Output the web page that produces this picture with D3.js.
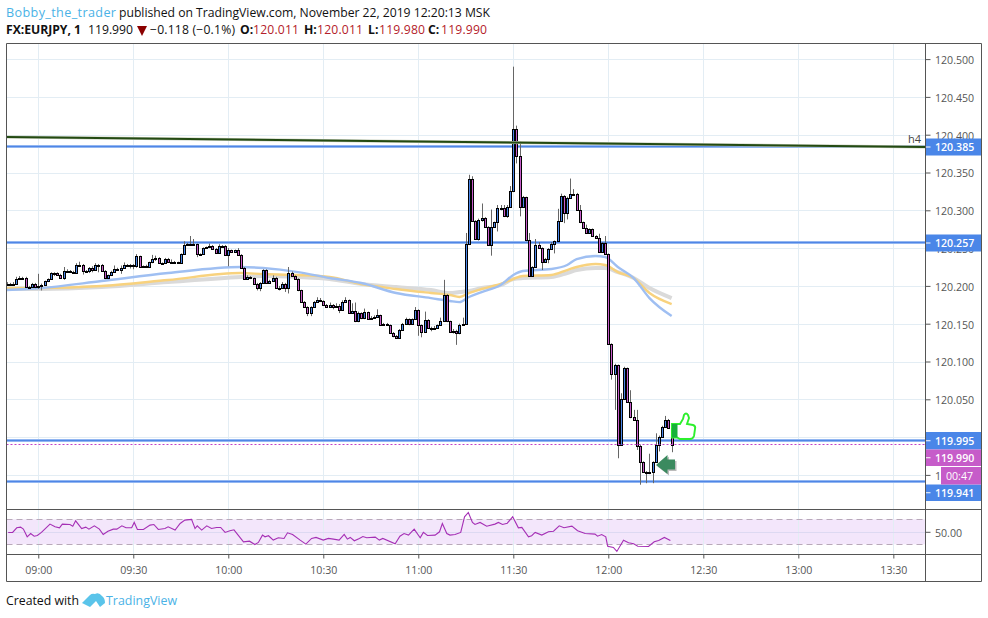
<!DOCTYPE html>
<html><head><meta charset="utf-8">
<script src="https://cdnjs.cloudflare.com/ajax/libs/d3/7.8.5/d3.min.js"></script>
<style>html,body{margin:0;padding:0;background:#fff}svg{display:block}text{font-family:"Open Sans",sans-serif}</style>
</head><body><svg id="c" width="988" height="618"></svg>
<script>
const closes=[120.203,120.203,120.203,120.209,120.210,120.210,120.199,120.199,120.203,120.198,
120.200,120.201,120.206,120.209,120.217,120.217,120.215,120.211,120.220,120.220,
120.219,120.217,120.228,120.228,120.220,120.220,120.224,120.221,120.228,120.228,
120.220,120.210,120.214,120.219,120.222,120.221,120.224,120.228,120.228,120.228,
120.226,120.239,120.225,120.226,120.225,120.231,120.236,120.237,120.230,120.230,
120.236,120.232,120.232,120.231,120.230,120.242,120.254,120.255,120.256,120.255,
120.242,120.242,120.250,120.251,120.253,120.249,120.244,120.253,120.253,120.241,
120.247,120.245,120.247,120.241,120.224,120.209,120.212,120.210,120.203,120.197,
120.204,120.221,120.204,120.207,120.211,120.197,120.197,120.203,120.197,120.217,
120.213,120.209,120.194,120.179,120.172,120.164,120.172,120.179,120.182,120.180,
120.175,120.172,120.175,120.172,120.173,120.168,120.179,120.181,120.164,120.167,
120.153,120.164,120.157,120.165,120.156,120.158,120.159,120.161,120.148,120.150,
120.148,120.138,120.134,120.131,120.142,120.150,120.156,120.150,120.156,120.168,
120.148,120.139,120.155,120.144,120.144,120.144,120.148,120.154,120.188,120.153,
120.139,120.141,120.138,120.148,120.150,120.255,120.341,120.286,120.262,120.287,
120.290,120.278,120.254,120.278,120.284,120.303,120.303,120.292,120.305,120.326,
120.408,120.372,120.305,120.317,120.261,120.213,120.225,120.254,120.250,120.232,
120.236,120.249,120.256,120.259,120.286,120.319,120.297,120.316,120.322,120.322,
120.301,120.284,120.277,120.270,120.275,120.266,120.264,120.245,120.257,120.242,
120.123,120.083,120.095,119.990,120.050,120.091,120.047,120.026,120.023,119.988,
119.967,119.954,119.952,119.954,119.967,119.989,120.000,120.013,120.023,120.012,119.990];
const highs=[120.205,120.204,120.205,120.212,120.213,120.212,120.212,120.200,120.204,120.204,
120.216,120.203,120.207,120.210,120.218,120.218,120.218,120.216,120.225,120.222,
120.221,120.220,120.230,120.232,120.229,120.221,120.225,120.226,120.230,120.229,
120.229,120.221,120.215,120.220,120.227,120.224,120.227,120.231,120.229,120.229,
120.229,120.242,120.240,120.227,120.228,120.232,120.241,120.240,120.238,120.231,
120.237,120.237,120.235,120.233,120.232,120.243,120.259,120.257,120.266,120.262,
120.256,120.243,120.251,120.252,120.256,120.254,120.250,120.255,120.254,120.254,
120.250,120.248,120.248,120.250,120.242,120.225,120.214,120.213,120.211,120.204,
120.205,120.222,120.222,120.208,120.214,120.212,120.200,120.205,120.204,120.225,
120.219,120.214,120.210,120.195,120.180,120.173,120.173,120.180,120.185,120.184,
120.181,120.176,120.178,120.176,120.177,120.176,120.181,120.185,120.182,120.177,
120.178,120.166,120.165,120.170,120.166,120.160,120.161,120.169,120.162,120.151,
120.151,120.149,120.139,120.135,120.143,120.151,120.158,120.157,120.157,120.172,
120.169,120.149,120.166,120.156,120.146,120.147,120.149,120.158,120.208,120.189,
120.154,120.143,120.142,120.150,120.158,120.270,120.347,120.345,120.287,120.289,
120.309,120.291,120.279,120.301,120.285,120.307,120.307,120.307,120.307,120.332,
120.490,120.412,120.391,120.319,120.318,120.270,120.226,120.262,120.258,120.251,
120.237,120.250,120.258,120.260,120.302,120.322,120.320,120.318,120.342,120.328,
120.323,120.307,120.285,120.281,120.276,120.276,120.267,120.269,120.258,120.266,
120.243,120.124,120.097,120.096,120.058,120.093,120.092,120.062,120.036,120.036,
119.990,119.968,119.955,119.978,119.968,120.005,120.002,120.015,120.028,120.024,120.011];
const lows=[120.201,120.202,120.201,120.203,120.208,120.208,120.198,120.198,120.198,120.197,
120.196,120.194,120.200,120.205,120.208,120.213,120.214,120.210,120.208,120.219,
120.218,120.216,120.216,120.226,120.215,120.219,120.217,120.218,120.220,120.218,
120.219,120.209,120.209,120.213,120.218,120.220,120.216,120.223,120.227,120.223,
120.222,120.224,120.224,120.224,120.224,120.225,120.230,120.233,120.229,120.229,
120.229,120.231,120.231,120.230,120.229,120.229,120.241,120.253,120.254,120.253,
120.238,120.240,120.241,120.249,120.250,120.248,120.243,120.243,120.252,120.240,
120.226,120.244,120.244,120.240,120.223,120.208,120.208,120.209,120.202,120.194,
120.193,120.203,120.203,120.203,120.206,120.196,120.194,120.196,120.192,120.190,
120.212,120.208,120.193,120.178,120.171,120.160,120.160,120.171,120.178,120.179,
120.174,120.171,120.171,120.169,120.171,120.164,120.167,120.178,120.163,120.163,
120.152,120.152,120.156,120.156,120.155,120.155,120.157,120.158,120.147,120.147,
120.147,120.137,120.132,120.130,120.130,120.141,120.149,120.148,120.149,120.155,
120.134,120.132,120.138,120.143,120.140,120.142,120.143,120.147,120.153,120.152,
120.138,120.137,120.122,120.136,120.147,120.149,120.254,120.285,120.261,120.260,
120.285,120.277,120.253,120.240,120.277,120.272,120.300,120.291,120.290,120.304,
120.324,120.362,120.292,120.303,120.259,120.212,120.212,120.224,120.249,120.221,
120.231,120.230,120.248,120.243,120.258,120.285,120.283,120.288,120.315,120.321,
120.300,120.283,120.276,120.269,120.269,120.265,120.263,120.244,120.244,120.241,
120.122,120.076,120.036,119.972,119.989,120.049,120.046,120.025,120.022,119.983,
119.937,119.953,119.939,119.951,119.939,119.966,119.981,119.999,120.012,120.011,119.980];
const maIdx=[0,11,30,51,74,81,92,102,112,123,134,140,143,146,150,156,160,163,172,177,180,186,189,193,198,203,210];
const maBlue=[120.1945,120.1972,120.2064,120.2170,120.2250,120.2236,120.2183,120.2104,120.2038,120.1906,120.1839,120.1800,120.1786,120.1853,120.1919,120.2011,120.2144,120.2197,120.2223,120.2276,120.2355,120.2395,120.2382,120.2250,120.2104,120.1839,120.1601];
const maOrange=[120.1972,120.1972,120.1998,120.2078,120.2170,120.2157,120.2144,120.2117,120.2025,120.1959,120.1906,120.1879,120.1853,120.1906,120.1959,120.2025,120.2091,120.2131,120.2144,120.2210,120.2250,120.2289,120.2276,120.2183,120.2104,120.1906,120.1760];
const maGray=[120.1959,120.1959,120.1985,120.2051,120.2117,120.2131,120.2117,120.2091,120.2025,120.1985,120.1945,120.1906,120.1919,120.1932,120.1972,120.2011,120.2091,120.2104,120.2117,120.2170,120.2210,120.2236,120.2236,120.2183,120.2104,120.1972,120.1839];
const rsiIdx=[0.5,1.9,3.2,4.4,5.3,6.5,7.6,8.7,9.7,11,13.7,15.3,16.7,17.6,20,20.9,21.8,23.7,25,26,27.7,29.3,30.5,32,33.7,34.8,36.4,37.7,39.5,40.3,41.3,43.2,45.3,46.5,47.9,50,51,53.2,54.8,56.3,58.4,59.5,60.2,61.6,63.2,64.7,66.3,67.6,69,70.5,71.8,74.8,76.7,78.4,79.5,80.8,81.6,82.7,84.2,85.8,87.6,88.7,90.3,92.7,94.5,96.3,97.7,100,101.6,103.2,105,106.6,107.6,108.5,109.8,111.4,112.5,113.7,116.4,117.7,118.8,122.7,124.2,125.5,126.9,128.7,130.6,131.6,132.9,135.3,136.7,137.6,139,140,141.6,143.4,144.6,145.8,147.1,147.9,149.5,151.6,154.2,155.3,156.6,158.1,159.8,161.6,162.7,164.8,165.8,166.9,169,171.1,172.7,174.5,176,178.5,180.3,182.7,185.8,186.6,187.9,189.2,189.8,191.6,192.7,194.8,196.4,198,199.3,202.7,204.5,205.9,207.7,209.6];
const rsiVal=[49,49,56.4,57.5,54.3,42,47.3,43,44,49,62.3,58,56.4,62.3,61.7,59,67.6,55.3,57.5,54.3,59.6,54.3,45.7,51,54.3,54.3,59.6,56.4,56.4,65,53.7,53.7,60.7,61.7,53.7,55.3,58,52.7,63.3,68.7,69.8,55.3,59.6,52.7,59.6,55.3,57,57,49,51.6,53.2,34,35,29.7,33,44.7,42,43.7,36.7,40.4,39.4,48.4,45.7,36.7,30.3,39.4,41,36.7,39.4,38.3,36.7,45.7,38.3,41,35.6,39.4,42.5,40.4,41.5,36.7,39.4,30.8,43,47.3,44.7,54.3,40.4,49,44.2,44.7,50,63.3,47.3,44.7,45.7,49,74,81,65,61.7,65,59,62.3,65,61.7,63.8,74,56.4,57,42,43.7,49,44.7,50,51,59.6,56.4,59,51.6,47.3,46.3,43,45.7,42,27,25,18.6,36.5,32.6,30.8,27,26.5,34,36.2,41,36];
const priceTicks=[120.5,120.45,120.4,120.35,120.3,120.25,120.2,120.15,120.1,120.05,120,119.95];
const priceLabelTicks=[120.5,120.45,120.4,120.35,120.3,120.25,120.2,120.15,120.1,120.05,119.95];
const timeTickIdx=[10,40,70,100,130,160,190,220,250,280];
const timeLabels=["09:00","09:30","10:00","10:30","11:00","11:30","12:00","12:30","13:00","13:30"];
const levels=[120.385,120.257,119.995,119.941];
const trendIdx=[0,290];
const trendVal=[120.397,120.3837];
const lastPrice=119.990;
const rsiTicks=[50];
const rsiBand=[70,30];

const L=6.5,R=925.5,E=981.5,T=43.5,B=509.5,RB=554.5,AB=581.5;
const GRID="#e3edf4",BORDER="#555",TXT="#555";
const FUP="#4a86e8",FDN="#c65cc9";
const x=d3.scaleLinear().domain([0,290]).range([6.6,925]);
const y=d3.scaleLinear().domain([120.5,119.95]).range([59.1,474.9]);
const yr=d3.scaleLinear().domain([70,30]).range([519.3,544.3]);
const svg=d3.select("#c");
const defs=svg.append("defs");
defs.append("clipPath").attr("id","pane").append("rect").attr("x",L).attr("y",T).attr("width",R-L).attr("height",B-T);

// RSI band
svg.append("rect").attr("x",L).attr("width",R-L).attr("y",yr(70)).attr("height",yr(30)-yr(70)).attr("fill","#f3e6fb");
// grid
const g=svg.append("g");
g.selectAll(".gh").data(priceTicks).join("line").attr("x1",L).attr("x2",R).attr("y1",d=>Math.round(y(d))+.5).attr("y2",d=>Math.round(y(d))+.5).attr("stroke",GRID);
g.selectAll(".gv").data(timeTickIdx).join("line").attr("x1",d=>Math.round(x(d))+.5).attr("x2",d=>Math.round(x(d))+.5).attr("y1",T).attr("y2",RB).attr("stroke",GRID);

svg.selectAll(".rg").data(rsiTicks).join("line").attr("x1",L).attr("x2",R).attr("y1",d=>Math.round(yr(d))+.5).attr("y2",d=>Math.round(yr(d))+.5).attr("stroke","#ddd9f2");
svg.selectAll(".rb").data(rsiBand).join("line").attr("x1",L).attr("x2",R).attr("y1",d=>Math.round(yr(d))+.5).attr("y2",d=>Math.round(yr(d))+.5).attr("stroke","#b9a9ba").attr("stroke-dasharray","6 4");
svg.append("path").datum(rsiVal).attr("fill","none").attr("stroke","#a52fb5").attr("stroke-width",1.1)
 .attr("d",d3.line().x((d,i)=>x(rsiIdx[i])).y(d=>yr(d)));

const pane=svg.append("g").attr("clip-path","url(#pane)");
const maLine=d3.line().x((d,i)=>x(maIdx[i])).y(d=>y(d)).curve(d3.curveMonotoneX);
pane.append("path").datum(maGray).attr("fill","none").attr("stroke","#dadada").attr("stroke-width",4).attr("d",maLine);
pane.append("path").datum(maOrange).attr("fill","none").attr("stroke","#f8d27e").attr("stroke-width",2.4).attr("d",maLine);
pane.append("path").datum(maBlue).attr("fill","none").attr("stroke","#9fbff2").attr("stroke-width",2.4).attr("d",maLine);

// levels
[["#a9c6f4",3],["#4f86e6",1.4]].forEach(([c,w])=>{
 pane.selectAll(null).data(levels).join("line").attr("x1",L).attr("x2",R).attr("y1",d=>Math.floor(y(d))+.5).attr("y2",d=>Math.floor(y(d))+.5).attr("stroke",c).attr("stroke-width",w);
});
// candles
const idx=d3.range(closes.length);
const openOf=i=>i?closes[i-1]:closes[0];
const cg=pane.selectAll(".cd").data(idx).join("g");
cg.append("line").attr("x1",i=>Math.round(x(i))+.5).attr("x2",i=>Math.round(x(i))+.5)
 .attr("y1",i=>y(highs[i])).attr("y2",i=>y(lows[i])).attr("stroke","#666");
cg.append("rect").attr("x",i=>Math.round(x(i))-.5).attr("width",2)
 .attr("y",i=>Math.round(y(Math.max(openOf(i),closes[i])))+.5)
 .attr("height",i=>Math.max(1,Math.round(y(Math.min(openOf(i),closes[i])))-Math.round(y(Math.max(openOf(i),closes[i])))))
 .attr("fill",i=>closes[i]>=openOf(i)?FUP:FDN).attr("stroke","#000");
// trend line
const tl=d3.line().x((d,i)=>x(trendIdx[i])).y(d=>y(d));
pane.append("path").datum(trendVal).attr("fill","none").attr("stroke","#c6cdbb").attr("stroke-width",3).attr("d",tl);
pane.append("path").datum(trendVal).attr("fill","none").attr("stroke","#234a12").attr("stroke-width",2).attr("d",tl);
svg.append("line").attr("x1",L).attr("x2",R).attr("y1",Math.floor(y(lastPrice))+.5).attr("y2",Math.floor(y(lastPrice))+.5).attr("stroke","#c040c8").attr("stroke-dasharray","2 2");

svg.append("text").attr("x",908).attr("y",143).attr("font-size",11).attr("fill","#444").text("h4");

// thumb
svg.append("path").attr("d","M672 424H677L680 424L683 419L684 415Q686 412 688 415L689 418L687 424L693 425Q696 426 695 429L694 436Q693 439 690 439L680 439L677 437.5H672Z").attr("fill","#fff").attr("fill-opacity",.85).attr("stroke","#2def2d").attr("stroke-width",1.9);
svg.append("rect").attr("x",672).attr("y",424).attr("width",5.5).attr("height",13.5).attr("fill","#18b03a");
// arrow
const arrow="M656 465L667.5 455V459.5H675V469.5H667.5V474Z";
svg.append("path").attr("d",arrow).attr("fill","#bbb").attr("transform","translate(1.5,1.5)");
svg.append("path").attr("d",arrow).attr("fill","#3b8a5f");

// borders
const bl=(a,b,c,d)=>svg.append("line").attr("x1",a).attr("y1",b).attr("x2",c).attr("y2",d).attr("stroke",BORDER);
bl(L,T,E,T);bl(L,B,E,B);bl(L,RB,E,RB);bl(L,AB,E,AB);bl(L,T,L,AB);bl(R,T,R,AB);bl(E,T,E,AB);

// axes
const styleAxis=(sel)=>{sel.select(".domain").remove();sel.selectAll("line").attr("stroke",BORDER);
 sel.selectAll("text").attr("fill",TXT).attr("font-size",10.6);};
const ag=svg.append("g").attr("transform",`translate(${R},0)`).call(d3.axisRight(y).tickValues(priceLabelTicks).tickFormat(d3.format(".3f")).tickSize(5).tickPadding(4.5));
styleAxis(ag);ag.selectAll("text").attr("dy",".42em");
const arg=svg.append("g").attr("transform",`translate(${R},0)`).call(d3.axisRight(yr).tickValues(rsiTicks).tickFormat(d3.format(".2f")).tickSize(5).tickPadding(4.5));
styleAxis(arg);arg.selectAll("text").attr("dy",".42em");
const atg=svg.append("g").attr("transform",`translate(0,${RB})`).call(d3.axisBottom(x).tickValues(timeTickIdx).tickFormat((d,i)=>timeLabels[i]).tickSize(4).tickPadding(8));
styleAxis(atg);

// price labels
const labels=[[120.385,138.5,155.5,FUP],[120.257,234.5,251.5,FUP],[119.995,432,449.5,FUP],[119.990,449.5,466,FDN],[119.941,484.5,501,FUP]];
labels.forEach(([v,a,b,c])=>{
 svg.append("rect").attr("x",R+.5).attr("y",a).attr("width",E-R-1).attr("height",b-a).attr("fill",c);
 svg.append("line").attr("x1",R+.5).attr("x2",R+5).attr("y1",(a+b)/2).attr("y2",(a+b)/2).attr("stroke","#fff");
 svg.append("text").attr("x",935).attr("y",(a+b)/2+4).attr("font-size",10.6).attr("font-weight",600).attr("fill","#fff").text(v.toFixed(3));
});
svg.append("rect").attr("x",941).attr("y",467).attr("width",E-941-.5).attr("height",17.5).attr("fill",FDN);
svg.append("text").attr("x",946).attr("y",480).attr("font-size",10.6).attr("fill","#fff").text("00:47");

// header
const h=(xp,yp,t,o={})=>{const e=svg.append("text").attr("x",xp).attr("y",yp).attr("font-size",o.s||12.2).attr("fill",o.c||"#111").attr("font-weight",o.b?700:400).text(t);if(o.w)e.attr("textLength",o.w);return e;};
h(6,17,"Bobby_the_trader",{c:"#4ab2e6",s:12.6,w:110});
h(119,17,"published on TradingView.com, November 22, 2019 12:20:13 MSK",{w:371});
h(6,34,"FX:EURJPY, 1",{b:1,w:75});
h(88,34,"119.990",{w:45});
svg.append("path").attr("d","M137 26H147L142 36Z").attr("fill","#8b0000");
h(150,34,"\u22120.118 (\u22120.1%)",{w:85});
const red="#b4212a";
h(240,34,"O:",{b:1});h(253,34,"120.011",{c:red,w:46});
h(304,34,"H:",{b:1});h(317,34,"120.011",{c:red,w:46});
h(368,34,"L:",{b:1});h(379,34,"119.980",{c:red,w:46});
h(428,34,"C:",{b:1});h(441,34,"119.990",{c:red,w:46});

// footer
h(6,605,"Created with",{s:12.3,w:73});
svg.append("path").attr("d","M82 603L90 595Q92 593 95 594Q99 592 102 596Q105 598 105 603L100 607L96 601L90 607Z").attr("fill","#5ac4ea");
h(106,605,"TradingView",{s:12.4,c:"#4ab2e6",w:71});
</script></body></html>
